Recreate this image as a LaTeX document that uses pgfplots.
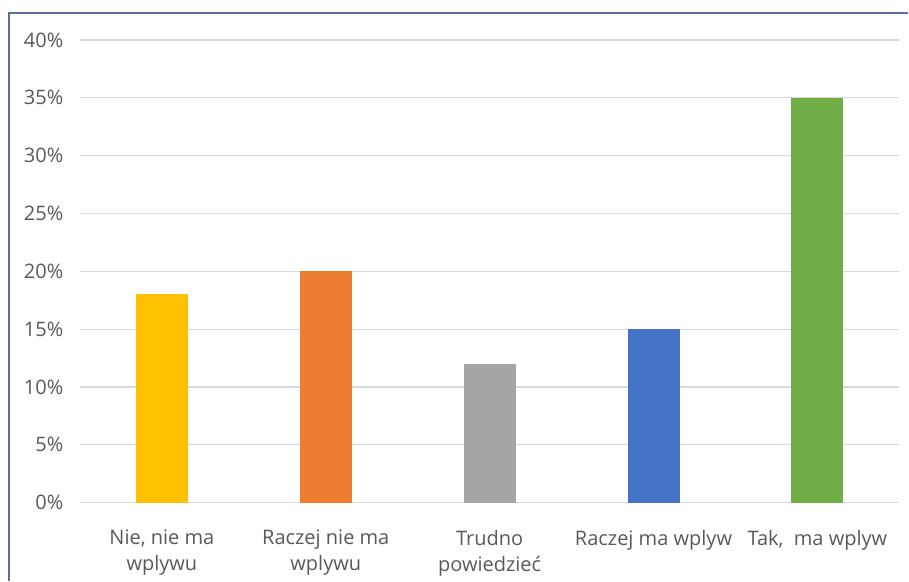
\documentclass[border=0pt]{standalone}
\usepackage{pgfplots}
\pgfplotsset{compat=1.18}
\usepackage{fontspec}
\setmainfont{Open Sans}
\definecolor{txt}{HTML}{595959}
\definecolor{gridc}{HTML}{D9D9D9}
\definecolor{frame}{HTML}{5A6E9A}
\definecolor{c1}{HTML}{FFC000}
\definecolor{c2}{HTML}{ED7D31}
\definecolor{c3}{HTML}{A5A5A5}
\definecolor{c4}{HTML}{4472C4}
\definecolor{c5}{HTML}{70AD47}
\begin{document}
\begin{tikzpicture}
\begin{axis}[
    scale only axis,
    width=615pt, height=347.25pt,
    xmin=-0.5, xmax=4.5,
    ymin=0, ymax=40,
    ytick={0,5,...,40},
    yticklabel={\pgfmathprintnumber{\tick}\%},
    xtick={0,1,2,3,4},
    xticklabels={{Nie, nie ma\\wplywu},{Raczej nie ma\\wplywu},{Trudno\\powiedzieć},{Raczej ma wplyw},{Tak,\ \ ma wplyw}},
    x tick label style={align=center, font=\fontsize{15}{19.5}\selectfont, text=txt, yshift=-17pt},
    y tick label style={font=\fontsize{15}{18}\selectfont, text=txt, xshift=-9pt},
    /pgf/number format/assume math mode=true,
    major tick length=0pt,
    axis line style={draw=none},
    ymajorgrids,
    grid style={gridc, line width=0.9pt},
    clip=false,
    ybar, bar width=39pt,
]
\addplot[fill=c1, draw=none, bar shift=0pt] coordinates {(0,18)};
\addplot[fill=c2, draw=none, bar shift=0pt] coordinates {(1,20)};
\addplot[fill=c3, draw=none, bar shift=0pt] coordinates {(2,12)};
\addplot[fill=c4, draw=none, bar shift=0pt] coordinates {(3,15)};
\addplot[fill=c5, draw=none, bar shift=0pt] coordinates {(4,35)};
\end{axis}
\draw[frame, line width=1pt] (-53.25pt,-58.5pt) -- (-53.25pt,367.5pt) -- (621.75pt,367.5pt);
\useasboundingbox (-60pt,-58.5pt) rectangle (621.75pt,377.25pt);
\end{tikzpicture}
\end{document}
